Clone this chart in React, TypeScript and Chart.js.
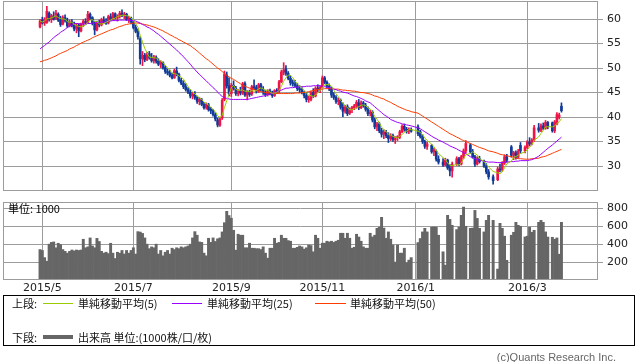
import React, { useEffect, useRef } from 'react';
import { Chart, registerables } from 'chart.js';
Chart.register(...registerables);

// ---------- calendar ----------
const FIRST_DAY = '2015-04-30';
const LAST_DAY = '2016-03-18';
const HOLIDAYS = [
  '2015-05-04', '2015-05-05', '2015-05-06', '2015-07-20', '2015-09-21', '2015-09-22', '2015-09-23',
  '2015-10-12', '2015-11-03', '2015-11-23', '2015-12-23', '2015-12-31', '2016-01-01', '2016-01-11', '2016-02-11',
];
// from this date on, the source chart keeps a slot for every market break
const WIDE_FROM = '2016-01-01';

const MONTH_TICKS = ['2015-05', '2015-07', '2015-09', '2015-11', '2016-01', '2016-03'];
const MONTH_LABELS = ['2015/5', '2015/7', '2015/9', '2015/11', '2016/1', '2016/3'];

// ---------- prices (one value per trading day) ----------
const OPEN = [
  58.4, 59.8, 59.2, 59.3, 61.2, 59.9, 60.6, 60.2, 61.0, 59.8,
  59.0, 60.3, 59.6, 58.6, 59.4, 58.8, 58.0, 58.8, 57.6, 59.1,
  59.5, 59.3, 61.0, 60.3, 59.2, 57.8, 59.3, 58.8, 59.8, 59.5,
  59.2, 60.5, 60.0, 61.1, 60.2, 60.6, 61.2, 60.8, 61.0, 59.9,
  60.2, 59.4, 58.3, 57.5, 56.0, 51.9, 52.6, 51.8, 52.9, 52.1,
  51.5, 52.2, 51.4, 50.8, 51.1, 50.1, 49.3, 49.0, 48.5, 48.0,
  49.4, 48.7, 47.5, 46.9, 46.2, 45.6, 45.1, 44.3, 44.6, 44.0,
  43.2, 43.5, 42.6, 41.9, 42.5, 41.6, 41.3, 40.5, 39.4, 38.3,
  39.8, 43.6, 48.6, 46.4, 44.8, 46.5, 45.9, 44.8, 45.3, 44.9,
  46.8, 44.5, 45.0, 44.7, 46.2, 46.0, 45.3, 46.6, 45.7, 45.1,
  44.6, 45.3, 44.8, 44.4, 45.4, 45.3, 47.2, 49.2, 49.8, 48.9,
  47.9, 47.0, 46.8, 46.4, 45.8, 45.6, 45.0, 44.4, 43.6, 43.6,
  45.0, 44.3, 45.9, 45.6, 46.1, 48.0, 47.1, 46.3, 45.7, 44.5,
  44.0, 43.2, 43.4, 42.0, 41.2, 42.1, 40.8, 41.5, 41.9, 42.3,
  42.9, 41.9, 42.9, 42.3, 41.6, 40.7, 41.0, 39.4, 38.0, 38.6,
  37.2, 36.5, 36.9, 36.2, 35.6, 36.2, 35.4, 35.8, 35.9, 37.0,
  38.1, 37.5, 37.1, 37.4,
  38.0, 37.0, 36.0, 35.0, 34.0, 34.2, 32.9, 33.0, 31.4,
  30.8, 30.2, 31.2, 29.6, 29.0, 30.4, 31.5, 30.4, 31.9, 33.1,
  34.3, 32.9, 31.9, 30.4, 31.5, 30.9, 30.0, 28.8, 27.8,
  27.2, 29.4, 29.2, 30.6, 31.9, 33.9, 32.2, 32.7, 31.8, 34.2, 33.1,
  33.8, 34.9, 34.5, 35.3, 37.8, 37.3, 38.2, 37.7, 38.9,
  38.8, 37.2, 38.6, 40.0, 42.2,
];
const HIGH = [
  59.9, 60.4, 60.3, 62.6, 61.5, 61.0, 61.5, 61.8, 61.3, 60.6,
  60.7, 60.9, 60.2, 59.8, 59.9, 59.4, 59.1, 59.0, 59.2, 59.9,
  60.1, 61.6, 61.3, 60.5, 59.6, 59.6, 59.8, 60.2, 60.5, 60.1,
  60.8, 61.1, 61.4, 61.3, 60.9, 61.6, 61.9, 61.4, 61.2, 60.6,
  60.4, 59.7, 58.8, 58.0, 56.4, 53.4, 53.0, 53.2, 53.4, 53.0,
  52.6, 52.5, 51.9, 51.5, 51.3, 50.5, 49.8, 49.6, 49.0, 49.8,
  50.2, 49.0, 47.9, 47.4, 46.8, 46.0, 45.6, 45.0, 45.2, 44.3,
  44.0, 43.8, 43.0, 42.9, 42.8, 42.0, 41.6, 40.9, 39.8, 40.0,
  43.8, 49.4, 49.2, 48.0, 46.9, 47.4, 46.3, 45.6, 46.1, 47.1,
  47.2, 45.4, 45.5, 46.5, 47.6, 46.5, 46.9, 46.9, 46.2, 45.5,
  45.6, 45.7, 45.3, 45.6, 45.8, 47.5, 49.6, 51.1, 50.5, 49.3,
  48.4, 47.6, 47.5, 46.9, 46.4, 46.0, 45.3, 45.0, 44.3, 45.3,
  45.8, 46.2, 46.6, 46.4, 48.4, 48.3, 47.4, 46.8, 46.1, 45.0,
  44.4, 43.9, 43.7, 42.9, 42.4, 42.5, 41.9, 42.2, 42.6, 43.4,
  43.6, 43.3, 43.2, 42.8, 42.1, 41.4, 41.3, 39.8, 38.9, 38.9,
  37.7, 37.4, 37.3, 36.8, 36.6, 36.5, 36.0, 36.2, 37.3, 38.4,
  38.6, 37.9, 37.8, 37.8,
  38.4, 37.3, 36.4, 35.3, 34.9, 34.4, 33.7, 33.3, 32.1,
  31.5, 31.6, 31.4, 30.3, 30.8, 31.9, 31.8, 32.2, 33.5, 35.2,
  34.6, 33.4, 32.2, 31.9, 32.0, 31.2, 30.5, 29.3, 28.2,
  29.8, 30.4, 30.9, 32.3, 32.4, 34.2, 33.0, 33.1, 33.4, 34.8, 34.1,
  35.2, 35.8, 35.6, 38.3, 38.7, 38.6, 38.8, 39.3, 39.1,
  39.0, 39.3, 40.9, 40.8, 42.9,
];
const LOW = [
  58.2, 59.0, 58.7, 59.1, 59.6, 59.3, 59.8, 59.9, 59.5, 58.5,
  58.8, 59.4, 58.3, 58.4, 58.4, 57.6, 57.2, 56.4, 57.4, 58.5,
  58.9, 59.2, 59.9, 58.8, 56.8, 57.6, 58.4, 58.6, 59.2, 58.9,
  59.0, 59.7, 59.8, 60.0, 59.6, 60.2, 60.5, 60.1, 59.7, 59.3,
  59.0, 58.0, 57.2, 55.9, 50.8, 50.5, 51.3, 51.5, 51.8, 51.2,
  51.0, 51.0, 50.5, 50.1, 49.8, 48.9, 48.6, 48.2, 47.8, 47.9,
  48.4, 47.2, 46.6, 45.8, 45.3, 44.8, 43.9, 43.7, 43.6, 42.8,
  42.5, 42.3, 41.6, 41.6, 41.2, 40.7, 40.2, 39.2, 38.0, 38.1,
  39.5, 43.3, 45.9, 44.3, 44.2, 45.5, 44.4, 44.3, 44.5, 44.6,
  44.2, 43.5, 44.2, 44.4, 45.6, 44.9, 45.0, 45.4, 44.6, 44.2,
  44.3, 44.5, 44.0, 44.2, 44.8, 45.0, 47.0, 48.6, 48.5, 47.6,
  46.5, 46.3, 46.1, 45.4, 45.0, 44.7, 43.9, 43.1, 43.0, 43.3,
  44.0, 44.1, 45.2, 45.0, 46.0, 46.8, 45.9, 45.4, 44.0, 43.6,
  42.8, 42.5, 41.6, 40.1, 40.8, 40.3, 40.5, 40.9, 41.5, 41.8,
  41.5, 41.7, 42.0, 41.2, 40.3, 40.2, 39.0, 37.6, 37.2, 36.8,
  35.9, 35.6, 35.8, 34.8, 35.2, 35.0, 34.6, 35.2, 35.6, 36.8,
  37.1, 36.7, 36.6, 36.9,
  36.2, 35.7, 34.6, 33.6, 33.4, 32.6, 32.1, 31.0, 30.4,
  29.9, 30.0, 29.3, 28.0, 27.7, 30.1, 30.0, 30.2, 31.5, 32.6,
  32.6, 31.6, 29.9, 30.2, 30.6, 29.7, 28.4, 27.3, 26.3,
  27.0, 28.8, 28.9, 30.3, 30.8, 31.8, 31.3, 31.4, 31.6, 32.6, 32.7,
  33.5, 34.1, 34.3, 35.0, 36.9, 37.0, 37.4, 37.5, 37.6,
  36.9, 36.8, 38.4, 39.6, 41.0,
];
const CLOSE = [
  59.6, 59.2, 60.0, 61.6, 59.9, 60.7, 60.0, 61.2, 59.8, 58.9,
  60.3, 59.7, 58.6, 59.4, 58.8, 58.0, 58.7, 57.6, 59.0, 59.6,
  59.3, 61.0, 60.2, 59.2, 57.8, 59.3, 58.8, 59.9, 59.5, 59.2,
  60.5, 60.0, 61.1, 60.3, 60.6, 61.2, 60.8, 61.0, 59.9, 60.2,
  59.4, 58.3, 57.5, 56.4, 51.9, 52.6, 51.7, 52.9, 52.2, 51.5,
  52.3, 51.4, 50.8, 51.2, 50.1, 49.3, 49.0, 48.5, 48.0, 49.5,
  48.7, 47.5, 46.9, 46.2, 45.6, 45.1, 44.3, 44.7, 44.0, 43.2,
  43.6, 42.6, 41.9, 42.6, 41.5, 41.3, 40.5, 39.6, 38.4, 39.6,
  43.4, 48.8, 46.4, 44.8, 46.5, 45.9, 44.8, 45.3, 44.9, 46.8,
  44.5, 45.0, 44.6, 46.2, 46.0, 45.3, 46.6, 45.7, 45.1, 44.6,
  45.3, 44.8, 44.4, 45.4, 45.2, 47.2, 49.2, 49.6, 48.9, 47.9,
  47.0, 46.8, 46.4, 45.8, 45.6, 45.0, 44.4, 43.6, 43.8, 45.0,
  44.3, 45.9, 45.6, 46.1, 48.0, 47.1, 46.3, 45.7, 44.5, 44.0,
  43.2, 43.4, 42.0, 41.2, 42.1, 40.7, 41.5, 41.9, 42.3, 43.0,
  41.9, 42.9, 42.3, 41.6, 40.7, 41.0, 39.4, 38.0, 38.6, 37.2,
  36.5, 36.9, 36.2, 35.6, 36.2, 35.4, 35.8, 35.9, 37.0, 38.1,
  37.5, 37.1, 37.4, 37.1,
  36.6, 36.0, 35.0, 34.0, 34.5, 32.9, 33.3, 31.4, 30.8,
  30.2, 31.2, 29.6, 29.0, 30.4, 31.5, 30.4, 31.9, 33.1, 34.6,
  32.9, 31.9, 30.4, 31.5, 30.9, 30.0, 28.8, 27.8, 27.0,
  29.4, 29.2, 30.6, 31.9, 31.2, 32.2, 32.7, 31.8, 33.0, 33.1, 33.8,
  34.9, 34.5, 35.3, 37.8, 37.3, 38.2, 37.7, 38.9, 38.0,
  37.2, 39.0, 40.5, 40.4, 41.3,
];
// volume, in thousands
const VOLUME = [
  340, 330, 250, 210, 400, 420, 425, 360, 410, 395,
  340, 320, 300, 320, 335, 325, 335, 330, 335, 455,
  360, 370, 470, 380, 360, 465, 430, 320, 300, 310,
  295, 410, 300, 240, 310, 300, 330, 290, 330, 300,
  330, 360, 290, 540, 535, 520, 470, 400, 350, 370,
  360, 400, 290, 330, 270, 310, 330, 290, 355, 340,
  360, 350, 370, 360, 370, 380, 400, 470, 540, 500,
  425, 420, 300, 270, 466, 420, 470, 430, 460, 470,
  537, 640, 767, 720, 690, 555, 333, 511, 500, 500,
  360, 360, 411, 355, 355, 350, 350, 340, 370, 300,
  244, 355, 355, 466, 411, 420, 500, 466, 466, 440,
  433, 355, 355, 365, 380, 370, 345, 360, 390, 385,
  315, 500, 466, 355, 411, 411, 433, 425, 433, 420,
  433, 444, 522, 522, 466, 522, 466, 355, 366, 511,
  480, 433, 370, 355, 355, 522, 481, 500, 577, 590,
  700, 580, 466, 537, 455, 390, 200, 390, 300, 300,
  355, 193, 222, 250,
  418, 463, 537, 577, 537, 590, 592, 590, 500,
  315, 166, 722, 677, 611, 563, 590, 722, 814, 600,
  577, 580, 777, 688, 577, 537, 666, 722, 666,
  122, 633, 577, 489, 220, 500, 533, 644, 611, 600, 481,
  489, 588, 533, 555, 644, 666, 644, 537, 480,
  477, 455, 470, 288, 644,
];
// moving averages
const MA25 = [
  53.9, 54.3, 54.6, 55.0, 55.3, 55.8, 56.2, 56.6, 56.9, 57.3,
  57.6, 57.9, 58.3, 58.6, 58.9, 59.1, 59.1, 59.1, 59.0, 59.0,
  59.0, 59.1, 59.1, 59.2, 59.2, 59.3, 59.3, 59.4, 59.4, 59.5,
  59.6, 59.6, 59.7, 59.7, 59.7, 59.8, 59.8, 59.8, 59.8, 59.8,
  59.7, 59.7, 59.6, 59.4, 59.2, 58.9, 58.7, 58.4, 58.2, 57.9,
  57.6, 57.2, 56.9, 56.5, 56.1, 55.7, 55.3, 54.9, 54.5, 54.1,
  53.7, 53.2, 52.8, 52.3, 51.8, 51.3, 50.8, 50.2, 49.7, 49.2,
  48.7, 48.3, 47.8, 47.4, 46.9, 46.5, 46.0, 45.6, 45.1, 44.6,
  44.2, 44.0, 43.8, 43.7, 43.6, 43.6, 43.6, 43.6, 43.6, 43.6,
  43.6, 43.6, 43.7, 43.8, 43.9, 44.0, 44.1, 44.2, 44.3, 44.4,
  44.6, 44.7, 44.9, 45.0, 45.2, 45.4, 45.5, 45.7, 45.9, 45.9,
  46.0, 46.0, 46.1, 46.1, 46.2, 46.2, 46.2, 46.3, 46.3, 46.3,
  46.4, 46.4, 46.4, 46.4, 46.3, 46.2, 46.1, 46.0, 45.9, 45.7,
  45.6, 45.4, 45.3, 45.1, 45.0, 44.9, 44.7, 44.5, 44.3, 44.2,
  44.0, 43.8, 43.6, 43.3, 43.1, 42.9, 42.5, 42.1, 41.7, 41.3,
  40.9, 40.5, 40.2, 39.9, 39.5, 39.3, 39.1, 38.9, 38.8, 38.6,
  38.5, 38.4, 38.3, 38.2,
  37.8, 37.6, 37.3, 37.0, 36.7, 36.1, 35.8, 35.6, 35.3,
  34.9, 34.6, 34.4, 34.1, 33.9, 33.5, 33.2, 33.0, 32.7, 32.5,
  31.9, 31.7, 31.5, 31.3, 31.2, 31.0, 30.9, 30.8, 30.8,
  30.7, 30.7, 30.7, 30.8, 30.8, 30.9, 30.9, 31.0, 31.0, 31.1, 31.1,
  31.1, 31.2, 31.3, 31.5, 32.0, 32.4, 32.8, 33.2, 33.6,
  34.3, 34.7, 35.1, 35.5, 35.9,
];
const MA50 = [
  51.3, 51.4, 51.6, 51.7, 51.9, 52.1, 52.3, 52.5, 52.8, 53.0,
  53.2, 53.4, 53.6, 53.9, 54.1, 54.3, 54.6, 54.8, 55.1, 55.3,
  55.5, 55.7, 55.9, 56.2, 56.4, 56.6, 56.8, 57.0, 57.2, 57.4,
  57.6, 57.8, 57.9, 58.1, 58.3, 58.5, 58.6, 58.8, 58.9, 59.0,
  59.1, 59.2, 59.2, 59.2, 59.1, 59.0, 58.9, 58.8, 58.7, 58.5,
  58.4, 58.2, 58.0, 57.8, 57.6, 57.3, 57.1, 56.8, 56.6, 56.3,
  56.1, 55.8, 55.6, 55.3, 55.1, 54.8, 54.6, 54.2, 53.9, 53.5,
  53.1, 52.7, 52.3, 51.9, 51.6, 51.2, 50.8, 50.4, 50.0, 49.7,
  49.3, 48.9, 48.5, 48.2, 47.9, 47.7, 47.4, 47.1, 46.8, 46.5,
  46.3, 46.1, 45.9, 45.7, 45.6, 45.4, 45.3, 45.2, 45.1, 45.0,
  45.0, 44.9, 44.9, 44.9, 44.8, 44.8, 44.8, 44.8, 44.8, 44.8,
  44.8, 44.8, 44.9, 44.9, 44.9, 45.0, 45.0, 45.1, 45.2, 45.3,
  45.4, 45.5, 45.6, 45.7, 45.7, 45.8, 45.8, 45.8, 45.8, 45.7,
  45.7, 45.7, 45.6, 45.5, 45.5, 45.4, 45.4, 45.3, 45.3, 45.2,
  45.1, 45.0, 45.0, 44.9, 44.8, 44.7, 44.5, 44.3, 44.2, 44.0,
  43.8, 43.7, 43.4, 43.2, 43.0, 42.7, 42.5, 42.2, 42.0, 41.8,
  41.6, 41.4, 41.3, 41.1,
  40.8, 40.5, 40.2, 39.9, 39.6, 39.0, 38.7, 38.4, 38.1,
  37.5, 37.2, 36.9, 36.6, 36.4, 35.9, 35.7, 35.4, 35.2, 35.0,
  34.6, 34.4, 34.2, 34.0, 33.8, 33.5, 33.3, 33.1, 32.9,
  32.6, 32.4, 32.3, 32.2, 32.1, 31.9, 31.8, 31.6, 31.5, 31.5, 31.4,
  31.4, 31.4, 31.5, 31.5, 31.6, 31.8, 31.9, 32.0, 32.2,
  32.6, 32.8, 33.0, 33.2, 33.4,
];

const PRICE_TICKS = [30, 35, 40, 45, 50, 55, 60];
const VOLUME_TICKS = [200, 400, 600, 800];

// ---------- styles ----------
const UP = '#f01446';
const DOWN = '#123a98';
const C_MA5 = '#99cc00';
const C_MA25 = '#9a00ff';
const C_MA50 = '#ff3c00';
const C_VOL = '#666666';
const GRID = '#9c9c9c';
const X_MIN = -16.26;
const X_MAX = 245.05;

const DAY = 86400000;

function tradingDays(): string[] {
  const out: string[] = [];
  let t = Date.parse(FIRST_DAY + 'T00:00:00Z');
  const end = Date.parse(LAST_DAY + 'T00:00:00Z');
  while (t <= end) {
    const d = new Date(t);
    const iso = d.toISOString().slice(0, 10);
    const wd = d.getUTCDay();
    if (wd !== 0 && wd !== 6 && !HOLIDAYS.includes(iso)) out.push(iso);
    t += DAY;
  }
  return out;
}

function slotsFor(days: string[]): number[] {
  const slots = [0];
  for (let i = 1; i < days.length; i++) {
    let step = 1;
    if (days[i] >= WIDE_FROM) {
      const a = Date.parse(days[i - 1] + 'T00:00:00Z');
      const b = Date.parse(days[i] + 'T00:00:00Z');
      const gap = Math.round((b - a) / DAY);
      if (gap > 1) {
        let missing = 0;
        for (let k = 1; k < gap; k++) {
          const wd = new Date(a + k * DAY).getUTCDay();
          if (wd !== 0 && wd !== 6) missing++;
        }
        step += Math.max(1, missing);
      }
    }
    slots.push(slots[i - 1] + step);
  }
  return slots;
}

const boxPlugin = {
  id: 'box',
  afterDraw(chart: any, _a: any, opts: any) {
    const { ctx, chartArea: a } = chart;
    ctx.save();
    ctx.strokeStyle = GRID;
    ctx.lineWidth = 1;
    ctx.strokeRect(Math.round(a.left) + 0.5, Math.round(a.top) + 0.5, Math.round(a.right - a.left) - 1, Math.round(a.bottom - a.top) - 1);
    if (opts && opts.label) {
      ctx.fillStyle = '#000';
      ctx.font = '11px "Noto Sans CJK JP", "DejaVu Sans", sans-serif';
      ctx.textBaseline = 'middle';
      ctx.fillText(opts.label, a.left + 5, a.top + 7);
    }
    ctx.restore();
  },
};

const noPad = (s: any) => {
  s.paddingTop = 0;
  s.paddingBottom = 0;
  s.paddingLeft = 0;
  s.paddingRight = 0;
};

export default function App() {
  const priceRef = useRef<HTMLCanvasElement>(null);
  const volRef = useRef<HTMLCanvasElement>(null);

  useEffect(() => {
    document.body.style.margin = '0';
    Chart.defaults.font.family = '"DejaVu Sans", sans-serif';
    Chart.defaults.font.size = 11;
    Chart.defaults.color = '#333';

    const days = tradingDays();
    const slots = slotsFor(days);
    const tickPos = MONTH_TICKS.map((m) => {
      const i = days.findIndex((d) => d >= m + '-01');
      const gapBefore = i > 0 ? slots[i] - slots[i - 1] - 1 : 0;
      return slots[i] - gapBefore / 2;
    });
    const ma5 = CLOSE.map((_, i) => {
      const w = CLOSE.slice(Math.max(0, i - 4), i + 1);
      return w.reduce((s, v) => s + v, 0) / w.length;
    });
    const colors = CLOSE.map((c, i) => (c >= OPEN[i] ? UP : DOWN));

    const xAxis = (labels: boolean) => ({
      type: 'linear' as const,
      min: X_MIN,
      max: X_MAX,
      offset: false,
      afterBuildTicks: (s: any) => {
        s.ticks = tickPos.map((v) => ({ value: v }));
      },
      afterFit: (s: any) => {
        s.height = labels ? 16 : 0;
        noPad(s);
      },
      ticks: {
        display: labels,
        autoSkip: false,
        maxRotation: 0,
        padding: 2,
        color: '#222',
        callback: (_v: any, i: number) => MONTH_LABELS[i],
      },
      grid: { color: GRID, drawTicks: false, offset: false, lineWidth: 1 },
      border: { display: false },
    });
    const yAxis = (min: number, max: number, ticks: number[]) => ({
      position: 'right' as const,
      min,
      max,
      afterBuildTicks: (s: any) => {
        s.ticks = ticks.map((v) => ({ value: v }));
      },
      afterFit: (s: any) => {
        s.width = 40;
        noPad(s);
      },
      ticks: { padding: 4, color: '#222' },
      grid: { color: GRID, drawTicks: true, tickLength: 5, lineWidth: 1 },
      border: { display: false },
    });

    const price = new Chart(priceRef.current!, {
      type: 'bar',
      data: {
        datasets: [
          {
            type: 'line',
            data: days.map((_, i) => ({ x: slots[i], y: ma5[i] })),
            borderColor: C_MA5,
            borderWidth: 1,
            pointRadius: 0,
            order: -3,
          } as any,
          {
            type: 'line',
            data: days.map((_, i) => ({ x: slots[i], y: MA25[i] })),
            borderColor: C_MA25,
            borderWidth: 1,
            pointRadius: 0,
            order: -2,
          },
          {
            type: 'line',
            data: days.map((_, i) => ({ x: slots[i], y: MA50[i] })),
            borderColor: C_MA50,
            borderWidth: 1,
            pointRadius: 0,
            order: -1,
          },
          {
            type: 'bar',
            data: days.map((_, i) => ({ x: slots[i], y: [OPEN[i], CLOSE[i]] })),
            backgroundColor: colors,
            borderWidth: 0,
            barThickness: 2,
            minBarLength: 1,
            grouped: false,
            order: 1,
          },
          {
            type: 'bar',
            data: days.map((_, i) => ({ x: slots[i], y: [LOW[i], HIGH[i]] })),
            backgroundColor: colors,
            borderWidth: 0,
            barThickness: 1,
            grouped: false,
            order: 2,
          },
        ],
      },
      options: {
        animation: false,
        responsive: false,
        devicePixelRatio: 1,
        layout: { padding: { left: 3, top: 1, right: 0, bottom: 1 } },
        plugins: { legend: { display: false }, tooltip: { enabled: false }, box: {} } as any,
        scales: { x: xAxis(false) as any, y: yAxis(24.9, 63.7, PRICE_TICKS) as any },
      },
      plugins: [boxPlugin],
    });

    const volume = new Chart(volRef.current!, {
      type: 'bar',
      data: {
        datasets: [
          {
            data: days.map((_, i) => ({ x: slots[i], y: VOLUME[i] })),
            backgroundColor: C_VOL,
            borderWidth: 0,
            barPercentage: 1,
            categoryPercentage: 1,
          } as any,
        ],
      },
      options: {
        animation: false,
        responsive: false,
        devicePixelRatio: 1,
        layout: { padding: { left: 3, top: 6, right: 0, bottom: 0 } },
        plugins: { legend: { display: false }, tooltip: { enabled: false }, box: { label: '単位: 1000' } } as any,
        scales: { x: xAxis(true) as any, y: yAxis(0, 871, VOLUME_TICKS) as any },
      },
      plugins: [boxPlugin],
    });

    return () => {
      price.destroy();
      volume.destroy();
    };
  }, []);

  const txt: React.CSSProperties = {
    position: 'absolute',
    fontFamily: '"Noto Sans CJK JP", sans-serif',
    fontSize: 11,
    lineHeight: '14px',
    color: '#111',
    whiteSpace: 'nowrap',
  };
  const sample = (left: number, top: number, width: number, h: number, color: string): React.CSSProperties => ({
    position: 'absolute',
    left,
    top,
    width,
    height: h,
    background: color,
  });

  return (
    <div style={{ position: 'relative', width: 638, height: 362, background: '#fff', overflow: 'hidden' }}>
      <canvas ref={priceRef} width={638} height={192} style={{ position: 'absolute', left: 0, top: 0, display: 'block' }} />
      <canvas ref={volRef} width={638} height={100} style={{ position: 'absolute', left: 0, top: 196, display: 'block' }} />
      <div style={{ position: 'absolute', left: 3, top: 295, width: 630, height: 49, border: '1px solid #000' }} />
      <div style={{ ...txt, left: 12, top: 296 }}>上段:</div>
      <div style={sample(43, 303, 30, 1, C_MA5)} />
      <div style={{ ...txt, left: 78, top: 296 }}>単純移動平均(5)</div>
      <div style={sample(172, 303, 30, 1, C_MA25)} />
      <div style={{ ...txt, left: 207, top: 296 }}>単純移動平均(25)</div>
      <div style={sample(315, 303, 31, 1, C_MA50)} />
      <div style={{ ...txt, left: 350, top: 296 }}>単純移動平均(50)</div>
      <div style={{ ...txt, left: 12, top: 330 }}>下段:</div>
      <div style={sample(43, 335, 30, 4, C_VOL)} />
      <div style={{ ...txt, left: 78, top: 330 }}>出来高 単位:(1000株/口/枚)</div>
      <div
        style={{
          position: 'absolute',
          right: 22,
          top: 350,
          fontFamily: '"Liberation Sans", sans-serif',
          fontSize: 11,
          lineHeight: '14px',
          color: '#666',
          whiteSpace: 'nowrap',
        }}
      >
        (c)Quants Research Inc.
      </div>
    </div>
  );
}
